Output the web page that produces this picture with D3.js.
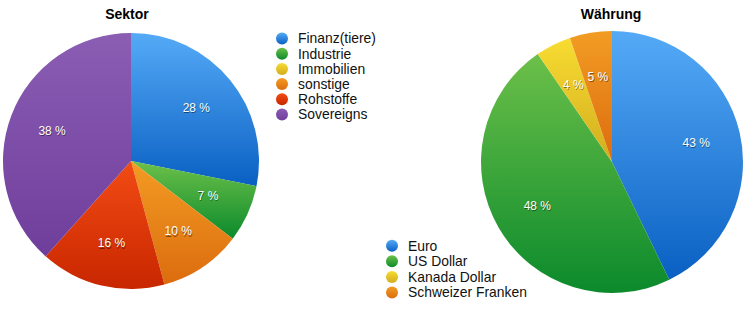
<!DOCTYPE html>
<html>
<head>
<meta charset="utf-8">
<script src="https://cdn.jsdelivr.net/npm/d3@7"></script>
<style>
body { margin: 0; background: #fff; }
svg { display: block; font-family: "Liberation Sans", Arial, sans-serif; }
</style>
</head>
<body>
<svg id="chart" width="755" height="312"></svg>
<script>
// Sektor
var sektorNames = ["Finanz(tiere)", "Industrie", "Immobilien", "sonstige", "Rohstoffe", "Sovereigns"];
var sektorValues = [28.1, 7.2, 0, 10.4, 15.8, 38.3];
var sektorColors = [["#55aaf7", "#0a60c2"], ["#6cc049", "#0b8a2c"], ["#f8dc32", "#d2ad1e"],
                    ["#f29c24", "#dc6c0e"], ["#f24c14", "#c82600"], ["#8b5db3", "#6f3e9c"]];

// Währung
var waehrungNames = ["Euro", "US Dollar", "Kanada Dollar", "Schweizer Franken"];
var waehrungValues = [42.8, 47.6, 4.4, 5.2];
var waehrungColors = [["#55aaf7", "#0a60c2"], ["#6cc049", "#0b8a2c"], ["#f8dc32", "#d2ad1e"], ["#f29c24", "#dc6c0e"]];

var svg = d3.select("#chart");
var defs = svg.append("defs");

function drawPie(id, title, names, values, colors, cx, cy, radius, titleX) {
	var total = d3.sum(values);
	var pie = d3.pie().sort(null).value(function(d) { return d; });
	var arc = d3.arc().innerRadius(0).outerRadius(radius);
	var labelArc = d3.arc().innerRadius(radius * 0.66).outerRadius(radius * 0.66);

	colors.forEach(function(c, i) {
		var g = defs.append("linearGradient").attr("id", id + i)
			.attr("x1", 0).attr("y1", 0).attr("x2", 0).attr("y2", 1);
		g.append("stop").attr("offset", "0%").attr("stop-color", c[0]);
		g.append("stop").attr("offset", "100%").attr("stop-color", c[1]);
	});

	svg.append("text")
		.attr("x", titleX).attr("y", 19)
		.attr("text-anchor", "middle")
		.attr("font-size", 14).attr("font-weight", "bold")
		.text(title);

	var g = svg.append("g").attr("transform", "translate(" + cx + "," + cy + ")");
	var arcs = pie(values);

	g.selectAll("path")
		.data(arcs)
		.enter().append("path")
		.attr("d", arc)
		.attr("fill", function(d, i) { return "url(#" + id + i + ")"; });

	var labels = g.selectAll("g.lbl")
		.data(arcs.filter(function(d) { return d.value / total > 0.02; }))
		.enter().append("g").attr("class", "lbl")
		.attr("transform", function(d) { return "translate(" + labelArc.centroid(d) + ")"; });

	// little dark shadow under the white text
	labels.append("text")
		.attr("x", 0.6).attr("y", 1.2)
		.attr("dy", "0.35em").attr("text-anchor", "middle")
		.attr("font-size", 12).attr("fill", "rgba(0,0,0,0.45)")
		.text(function(d) { return Math.round(d.value / total * 100) + " %"; });
	labels.append("text")
		.attr("dy", "0.35em").attr("text-anchor", "middle")
		.attr("font-size", 12).attr("fill", "#fff")
		.text(function(d) { return Math.round(d.value / total * 100) + " %"; });
}

function drawLegend(id, names, x, y, step) {
	var lg = svg.append("g").attr("transform", "translate(" + x + "," + y + ")");
	var rows = lg.selectAll("g").data(names).enter().append("g")
		.attr("transform", function(d, i) { return "translate(0," + (i * step) + ")"; });
	rows.append("circle").attr("r", 6)
		.attr("fill", function(d, i) { return "url(#" + id + i + ")"; });
	rows.append("text")
		.attr("x", 16).attr("dy", "0.35em")
		.attr("font-size", 13.9).attr("fill", "#111")
		.text(function(d) { return d; });
}

drawPie("sek", "Sektor", sektorNames, sektorValues, sektorColors, 131, 161, 128, 127);
drawPie("wae", "Währung", waehrungNames, waehrungValues, waehrungColors, 612, 162, 131, 611);
drawLegend("sek", sektorNames, 282, 38.5, 15.2);
drawLegend("wae", waehrungNames, 392, 245.7, 15.6);
</script>
</body>
</html>
